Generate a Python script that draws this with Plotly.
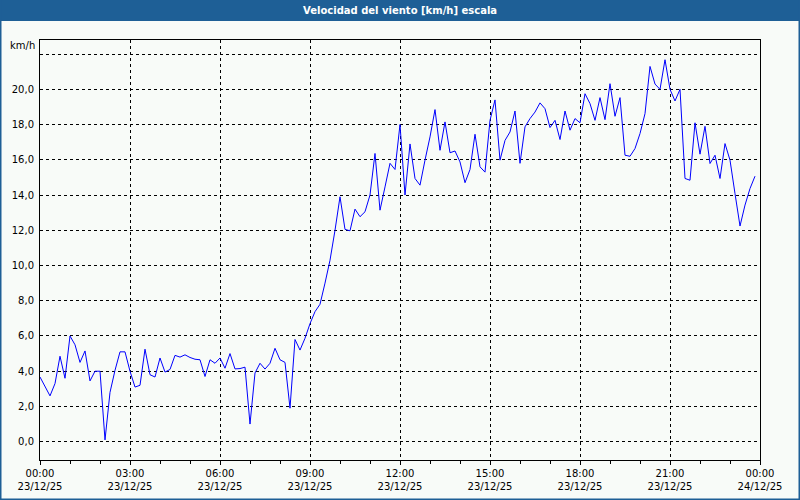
import pandas as pd
import plotly.graph_objects as go

# --- data (10-minute samples, 23/12/25 00:00 .. 23:50) ---
start_time = "2025-12-23 00:00"
interval = "10min"
wind_kmh = [
    3.67, 3.1, 2.6, 3.3, 4.85, 3.6, 6.0, 5.5, 4.5, 5.15,
    3.45, 4.0, 4.0, 0.1, 2.8, 4.05, 5.1, 5.1, 4.0, 3.1,
    3.2, 5.25, 3.8, 3.67, 4.75, 3.95, 4.1, 4.9, 4.8, 4.93,
    4.78, 4.68, 4.65, 3.7, 4.65, 4.45, 4.75, 4.17, 5.0, 4.13,
    4.15, 4.23, 1.0, 3.9, 4.45, 4.12, 4.45, 5.3, 4.65, 4.5,
    1.9, 5.8, 5.2, 5.87, 6.7, 7.38, 7.8, 9.0, 10.3, 12.0,
    13.9, 12.05, 11.97, 13.2, 12.77, 13.05, 14.0, 16.36, 13.14, 14.46,
    15.8, 15.45, 18.0, 14.0, 16.9, 14.94, 14.56, 15.98, 17.3, 18.85,
    16.54, 18.15, 16.4, 16.5, 15.88, 14.7, 15.45, 17.45, 15.6, 15.3,
    18.24, 19.4, 15.98, 17.1, 17.58, 18.77, 15.8, 17.87, 18.34, 18.71,
    19.23, 18.9, 17.83, 18.24, 17.15, 18.77, 17.68, 18.34, 18.1, 19.75,
    19.19, 18.24, 19.53, 18.28, 20.32, 18.47, 19.53, 16.26, 16.2, 16.64,
    17.49, 18.62, 21.3, 20.3, 20.0, 21.68, 20.0, 19.34, 20.0, 14.94,
    14.84, 18.1, 16.32, 17.9, 15.79, 16.26, 14.94, 16.92, 15.98, 14.08,
    12.24, 13.43, 14.37, 15.07,
]
y_tick_values = [0, 2, 4, 6, 8, 10, 12, 14, 16, 18, 20, 22]
y_tick_labels = ["0,0", "2,0", "4,0", "6,0", "8,0", "10,0", "12,0",
                 "14,0", "16,0", "18,0", "20,0", ""]
title_text = "Velocidad del viento [km/h] escala"
unit_text = "km/h"
x_range = ["2025-12-23 00:00", "2025-12-24 00:00"]
y_range = [-1.04, 22.8]

times = pd.date_range(start_time, periods=len(wind_kmh), freq=interval)

BG = "#f8fbf8"
BAR = "#1e5f96"
FONT = "DejaVu Sans"

fig = go.Figure()
fig.add_trace(go.Scatter(
    x=times, y=wind_kmh, mode="lines",
    line=dict(color="#0000ff", width=1),
    showlegend=False, hoverinfo="x+y",
))

fig.update_layout(
    width=800, height=500,
    margin=dict(l=40, r=40, t=40, b=40),
    paper_bgcolor=BG, plot_bgcolor=BG,
    separators=",.",
    font=dict(family=FONT, size=10, color="#000000"),
    showlegend=False,
)

fig.update_xaxes(
    type="date", range=x_range,
    dtick=3 * 3600 * 1000, tick0="2025-12-23 00:00",
    tickformat="%H:%M<br>%d/%m/%y",
    ticks="outside", ticklen=4, tickcolor="#000", tickwidth=1,
    minor=dict(dtick=3600 * 1000, ticks="outside", ticklen=3,
               tickcolor="#000", showgrid=False),
    showgrid=True, gridcolor="#000000", gridwidth=1, griddash="3px,3px",
    showline=True, linecolor="#000000", linewidth=1, mirror=True,
    zeroline=False, automargin=False,
    tickfont=dict(family=FONT, size=10, color="#000"),
)
fig.update_yaxes(
    range=y_range, tickmode="array",
    tickvals=y_tick_values, ticktext=y_tick_labels,
    ticks="", ticklabelstandoff=3,
    showgrid=True, gridcolor="#000000", gridwidth=1, griddash="3px,3px",
    showline=True, linecolor="#000000", linewidth=1, mirror=True,
    zeroline=False, automargin=False,
    tickfont=dict(family=FONT, size=10, color="#000"),
)

# title bar
fig.add_shape(type="rect", xref="paper", yref="paper",
              x0=-0.06, x1=1.06, y0=1.0 + 40 / 420 - 21 / 420, y1=1.0 + 40 / 420 + 0.01,
              fillcolor=BAR, line=dict(width=0), layer="above")
# window border (left, right, bottom)
fig.add_shape(type="line", xref="paper", yref="paper",
              x0=-40 / 720 + 0.5 / 720, x1=-40 / 720 + 0.5 / 720,
              y0=-40 / 420, y1=1 + 40 / 420, line=dict(color=BAR, width=2))
fig.add_shape(type="line", xref="paper", yref="paper",
              x0=1 + 40 / 720 - 0.5 / 720, x1=1 + 40 / 720 - 0.5 / 720,
              y0=-40 / 420, y1=1 + 40 / 420, line=dict(color=BAR, width=2))
fig.add_shape(type="line", xref="paper", yref="paper",
              x0=-40 / 720, x1=1 + 40 / 720,
              y0=-40 / 420 + 0.5 / 420, y1=-40 / 420 + 0.5 / 420,
              line=dict(color=BAR, width=2))

fig.add_annotation(text="<b>" + title_text + "</b>", xref="paper", yref="paper",
                   x=0.5, y=1 + (40 - 10) / 420, xanchor="center", yanchor="middle",
                   showarrow=False, font=dict(family=FONT, size=10, color="#ffffff"))
fig.add_annotation(text=unit_text, xref="paper", yref="paper",
                   x=-3 / 720, y=1 - 6 / 420, xanchor="right", yanchor="middle",
                   showarrow=False, font=dict(family=FONT, size=10, color="#000"))

fig.write_html("out.html",
               config={"displayModeBar": False},
               post_script="document.body.style.margin='0';"
                           "document.body.style.overflow='hidden';")
